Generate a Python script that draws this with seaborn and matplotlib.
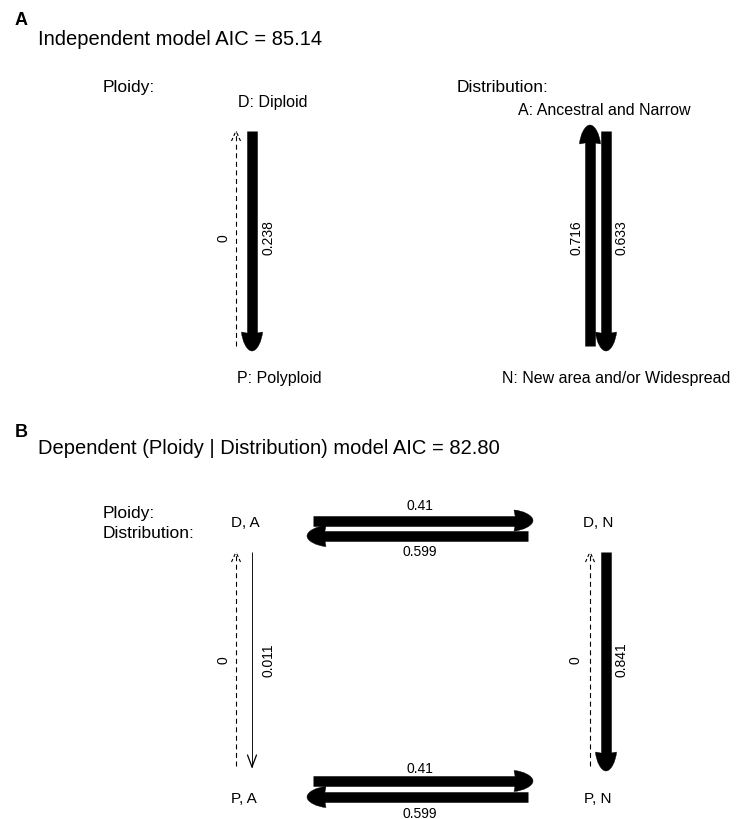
import numpy as np
import matplotlib
matplotlib.use("Agg")
import matplotlib.pyplot as plt
from matplotlib.path import Path
from matplotlib.patches import PathPatch
import seaborn as sns

sns.set_theme(style="white")
plt.rcParams['font.family'] = ['Liberation Sans', 'DejaVu Sans']
plt.rcParams['text.color'] = 'black'

# ---------------- data ----------------
panel_letters = ["A", "B"]
panel_titles = ["Independent model AIC = 85.14",
                "Dependent (Ploidy | Distribution) model AIC = 82.80"]
trait_names = ["Ploidy:", "Distribution:"]
ploidy_states = ["D: Diploid", "P: Polyploid"]
ploidy_rates = [0.238, 0.0]          # D->P, P->D
distribution_states = ["A: Ancestral and Narrow", "N: New area and/or Widespread"]
distribution_rates = [0.633, 0.716]  # A->N, N->A
dep_states = ["D, A", "D, N", "P, A", "P, N"]
dep_from = ["D, A", "D, N", "P, A", "P, N", "D, A", "P, A", "D, N", "P, N"]
dep_to = ["D, N", "D, A", "P, N", "P, A", "P, A", "D, A", "P, N", "D, N"]
dep_rates = [0.41, 0.599, 0.41, 0.599, 0.011, 0.0, 0.841, 0.0]

# ---------------- layout (pixels) ----------------
fig = plt.figure(figsize=(7.45, 8.2), dpi=100)
ax = fig.add_axes([0, 0, 1, 1])
ax.set_xlim(0, 745)
ax.set_ylim(820, 0)
ax.axis("off")
PX = 0.72  # points per pixel


def fmt(r):
    return "0" if r == 0 else ("%g" % r)


def draw_arrow(start, end, rate, label_xy, vertical):
    p0 = np.array(start, float)
    p1 = np.array(end, float)
    d = p1 - p0
    L = np.hypot(*d)
    u = d / L
    n = np.array([-u[1], u[0]])
    wpx = float(np.clip(rate * 60, 1.0, 10.5))
    if rate <= 0:
        ax.plot([p0[0], p1[0]], [p0[1], p1[1]], color="black", lw=0.8,
                dashes=(4.5, 3.2), solid_capstyle="butt")
        hl, hw = 10, 4.5
        for s in (1, -1):
            q = p1 - u * hl + n * hw * s
            ax.plot([q[0], p1[0]], [q[1], p1[1]], color="black", lw=0.8,
                    dashes=(3, 2))
    elif wpx < 3:
        ax.plot([p0[0], p1[0]], [p0[1], p1[1]], color="black", lw=wpx * PX * 0.9,
                solid_capstyle="butt")
        hl, hw = 12, 4.5
        for s in (1, -1):
            q = p1 - u * hl + n * hw * s
            ax.plot([q[0], p1[0]], [q[1], p1[1]], color="black", lw=0.9)
    else:
        hl, hw = 19, 10.5
        base = p1 - u * hl
        shaft_end = p1 - u * hl * 0.6
        ax.plot([p0[0], shaft_end[0]], [p0[1], shaft_end[1]], color="black",
                lw=wpx * PX, solid_capstyle="butt")

        def P(a, b):
            return base + u * a + n * b
        verts = [P(0, hw), P(hl * 0.45, hw * 0.95), P(hl, hw * 0.5), P(hl, 0),
                 P(hl, -hw * 0.5), P(hl * 0.45, -hw * 0.95), P(0, -hw),
                 P(2, 0), P(0, hw)]
        codes = [Path.MOVETO, Path.CURVE4, Path.CURVE4, Path.CURVE4,
                 Path.CURVE4, Path.CURVE4, Path.CURVE4, Path.LINETO, Path.CLOSEPOLY]
        ax.add_patch(PathPatch(Path(verts, codes), facecolor="black",
                               edgecolor="black", lw=0.3))
    ax.text(label_xy[0], label_xy[1], fmt(rate), fontsize=10,
            rotation=90 if vertical else 0, ha="center",
            va="center" if vertical else "baseline")


# ---------------- panel A ----------------
ax.text(15, 25, panel_letters[0], fontsize=13, fontweight="bold", ha="left", va="baseline")
ax.text(38, 45, panel_titles[0], fontsize=14.5, ha="left", va="baseline")
ax.text(103, 92, trait_names[0], fontsize=12.5, ha="left", va="baseline")
ax.text(457, 92, trait_names[1], fontsize=12.5, ha="left", va="baseline")
ax.text(238, 107, ploidy_states[0], fontsize=11.5, ha="left", va="baseline")
ax.text(237, 383, ploidy_states[1], fontsize=11.5, ha="left", va="baseline")
ax.text(518, 115, distribution_states[0], fontsize=11.5, ha="left", va="baseline")
ax.text(502, 383, distribution_states[1], fontsize=11.5, ha="left", va="baseline")

draw_arrow((252, 132), (252, 352), ploidy_rates[0], (268.5, 238), True)
draw_arrow((236, 347), (236, 132), ploidy_rates[1], (223.5, 238), True)
draw_arrow((606, 132), (606, 352), distribution_rates[0], (621.5, 238), True)
draw_arrow((590, 347), (590, 126), distribution_rates[1], (576.5, 238), True)

# ---------------- panel B ----------------
ax.text(15, 437, panel_letters[1], fontsize=13, fontweight="bold", ha="left", va="baseline")
ax.text(38, 454, panel_titles[1], fontsize=14.5, ha="left", va="baseline")
ax.text(103, 518, trait_names[0], fontsize=12.5, ha="left", va="baseline")
ax.text(103, 538, trait_names[1], fontsize=12.5, ha="left", va="baseline")

node_pos = {"D, A": (245, 527), "D, N": (598, 527), "P, A": (244, 803), "P, N": (598, 803)}
for s in dep_states:
    ax.text(node_pos[s][0], node_pos[s][1], s, fontsize=11, ha="center", va="baseline")

edge_geom = {
    ("D, A", "D, N"): ((313, 521.5), (533, 521.5), (420, 510), False),
    ("D, N", "D, A"): ((528, 537), (307, 537), (420, 556), False),
    ("P, A", "P, N"): ((313, 782), (533, 782), (420, 773), False),
    ("P, N", "P, A"): ((528, 798), (307, 798), (420, 818), False),
    ("D, A", "P, A"): ((252, 553), (252, 768), (268.5, 660), True),
    ("P, A", "D, A"): ((236, 767), (236, 553), (223.5, 660), True),
    ("D, N", "P, N"): ((606, 553), (606, 772), (621.5, 660), True),
    ("P, N", "D, N"): ((590, 767), (590, 553), (575.5, 660), True),
}
for f, t, r in zip(dep_from, dep_to, dep_rates):
    s, e, lab, vert = edge_geom[(f, t)]
    draw_arrow(s, e, r, lab, vert)

fig.savefig("out.png", dpi=100)
